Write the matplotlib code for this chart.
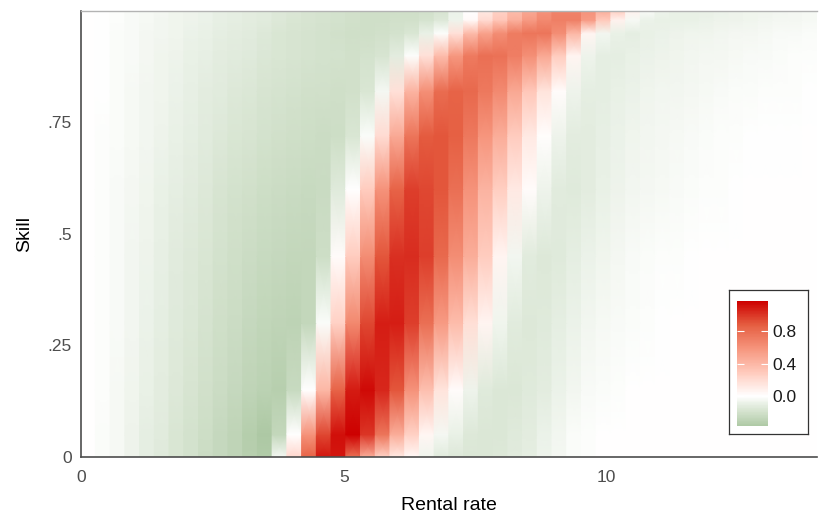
import numpy as np
import matplotlib
matplotlib.use("Agg")
import matplotlib.pyplot as plt
from matplotlib.colors import LinearSegmentedColormap, Normalize

# rental-rate grid: 50 equal columns between 0 and 14
RATE_MIN, RATE_MAX, N_RATE = 0.0, 14.0, 50

SKILL = [0.0, 0.05, 0.15, 0.30, 0.45, 0.60, 0.72, 0.82, 0.90, 0.95, 0.98, 1.0]

ROW_000 = [0, -0.02, -0.045, -0.08, -0.11, -0.14, -0.17, -0.20, -0.23, -0.26, -0.29, -0.32, -0.35,
           -0.05, 0.22, 0.85, 1.10, 1.10, 0.78, 0.45, 0.25, 0.12, 0.04, -0.07, -0.13, -0.15,
           -0.16, -0.16, -0.15, -0.13, -0.11, -0.08, -0.05, -0.025, -0.01, 0, 0, 0, 0, 0,
           0, 0, 0, 0, 0, 0, 0, 0, 0, 0]
ROW_005 = [0, -0.02, -0.045, -0.08, -0.11, -0.135, -0.17, -0.195, -0.225, -0.26, -0.285, -0.33, -0.37,
           -0.27, 0.0, 0.60, 0.95, 1.12, 1.17, 1.00, 0.75, 0.45, 0.25, 0.05, -0.05, -0.10,
           -0.15, -0.16, -0.16, -0.14, -0.12, -0.09, -0.055, -0.025, -0.01, 0, 0, 0, 0, 0,
           0, 0, 0, 0, 0, 0, 0, 0, 0, 0]
ROW_015 = [0, -0.018, -0.04, -0.068, -0.10, -0.127, -0.154, -0.18, -0.21, -0.235, -0.26, -0.285, -0.31,
           -0.32, -0.25, 0.0, 0.40, 0.85, 1.08, 1.14, 1.05, 0.90, 0.60, 0.35, 0.15, 0.02,
           -0.08, -0.14, -0.16, -0.16, -0.14, -0.12, -0.09, -0.06, -0.035, -0.02, -0.01, 0, 0, 0,
           0, 0, 0, 0, 0, 0, 0, 0, 0, 0]
ROW_030 = [0, -0.014, -0.036, -0.059, -0.086, -0.113, -0.14, -0.163, -0.19, -0.213, -0.235, -0.258, -0.276,
           -0.29, -0.30, -0.27, -0.02, 0.25, 0.65, 0.95, 1.07, 1.07, 0.97, 0.78, 0.55, 0.37,
           0.18, 0.06, -0.07, -0.13, -0.15, -0.14, -0.11, -0.085, -0.063, -0.045, -0.03, -0.02, -0.01, -0.005,
           0, 0, 0, 0, 0, 0, 0, 0, 0, 0]
ROW_045 = [0, -0.014, -0.035, -0.057, -0.08, -0.105, -0.128, -0.15, -0.172, -0.195, -0.215, -0.235, -0.25,
           -0.26, -0.27, -0.27, -0.22, 0.02, 0.28, 0.63, 0.90, 1.02, 1.03, 0.97, 0.82, 0.63,
           0.45, 0.28, 0.06, -0.06, -0.13, -0.15, -0.14, -0.11, -0.085, -0.068, -0.05, -0.035, -0.025, -0.015,
           -0.01, -0.005, 0, 0, 0, 0, 0, 0, 0, 0]
ROW_060 = [0, -0.012, -0.03, -0.05, -0.072, -0.093, -0.115, -0.135, -0.155, -0.175, -0.195, -0.21, -0.225,
           -0.235, -0.245, -0.25, -0.24, -0.14, 0.0, 0.28, 0.60, 0.85, 0.97, 0.95, 0.90, 0.78,
           0.60, 0.42, 0.27, 0.12, 0.02, -0.075, -0.13, -0.14, -0.12, -0.10, -0.08, -0.063, -0.05, -0.04,
           -0.03, -0.02, -0.014, -0.01, -0.005, 0, 0, 0, 0, 0]
ROW_072 = [0, -0.01, -0.027, -0.045, -0.063, -0.082, -0.10, -0.118, -0.135, -0.152, -0.168, -0.182, -0.195,
           -0.205, -0.215, -0.225, -0.23, -0.22, -0.17, -0.02, 0.20, 0.47, 0.75, 0.88, 0.90, 0.86,
           0.74, 0.58, 0.45, 0.28, 0.12, 0.01, -0.08, -0.12, -0.12, -0.105, -0.085, -0.072, -0.06, -0.05,
           -0.04, -0.03, -0.024, -0.018, -0.013, -0.009, -0.006, -0.004, -0.002, 0]
ROW_082 = [0, -0.009, -0.024, -0.04, -0.056, -0.072, -0.088, -0.104, -0.12, -0.135, -0.149, -0.162, -0.174,
           -0.185, -0.195, -0.205, -0.21, -0.215, -0.21, -0.17, -0.05, 0.17, 0.42, 0.62, 0.80, 0.85,
           0.82, 0.74, 0.64, 0.48, 0.31, 0.15, 0.02, -0.08, -0.11, -0.11, -0.10, -0.085, -0.072, -0.063,
           -0.055, -0.047, -0.04, -0.033, -0.027, -0.022, -0.017, -0.013, -0.01, -0.007]
ROW_090 = [0, -0.008, -0.02, -0.035, -0.05, -0.064, -0.078, -0.092, -0.106, -0.12, -0.132, -0.145, -0.156,
           -0.167, -0.177, -0.186, -0.194, -0.20, -0.205, -0.20, -0.18, -0.12, -0.01, 0.17, 0.37, 0.57,
           0.73, 0.78, 0.77, 0.71, 0.62, 0.48, 0.28, 0.06, -0.075, -0.11, -0.11, -0.10, -0.088, -0.078,
           -0.068, -0.06, -0.053, -0.046, -0.04, -0.034, -0.028, -0.023, -0.018, -0.014]
ROW_095 = [0, -0.008, -0.02, -0.033, -0.047, -0.06, -0.073, -0.086, -0.099, -0.112, -0.124, -0.136, -0.147,
           -0.165, -0.18, -0.19, -0.20, -0.21, -0.215, -0.215, -0.21, -0.20, -0.17, -0.10, -0.01, 0.17,
           0.38, 0.52, 0.63, 0.72, 0.75, 0.75, 0.63, 0.40, 0.06, -0.06, -0.10, -0.11, -0.10, -0.09,
           -0.08, -0.072, -0.065, -0.058, -0.052, -0.046, -0.04, -0.035, -0.03, -0.026]
ROW_098 = [0, -0.007, -0.018, -0.03, -0.043, -0.055, -0.067, -0.079, -0.091, -0.103, -0.114, -0.125, -0.135,
           -0.15, -0.165, -0.18, -0.19, -0.20, -0.21, -0.215, -0.215, -0.21, -0.205, -0.19, -0.15, -0.08,
           0.03, 0.20, 0.31, 0.43, 0.55, 0.64, 0.70, 0.70, 0.55, 0.30, 0.08, -0.045, -0.09, -0.10,
           -0.10, -0.095, -0.088, -0.08, -0.074, -0.067, -0.06, -0.054, -0.048, -0.043]
ROW_100 = [0, -0.007, -0.018, -0.03, -0.042, -0.054, -0.066, -0.078, -0.09, -0.102, -0.113, -0.124, -0.134,
           -0.148, -0.162, -0.176, -0.188, -0.198, -0.206, -0.212, -0.216, -0.218, -0.218, -0.21, -0.18, -0.09,
           0.0, 0.12, 0.25, 0.37, 0.48, 0.60, 0.68, 0.68, 0.60, 0.45, 0.27, 0.08, -0.03, -0.075,
           -0.095, -0.10, -0.095, -0.088, -0.08, -0.072, -0.064, -0.056, -0.05, -0.045]

X_TICKS = [0, 5, 10]
X_TICKLABELS = ['0', '5', '10']
Y_TICKS = [0, 0.25, 0.5, 0.75]
Y_TICKLABELS = ['0', '.25', '.5', '.75']
CBAR_TICKS = [0.0, 0.4, 0.8]
CBAR_TICKLABELS = ['0.0', '0.4', '0.8']

plt.rcParams['font.family'] = ['Liberation Sans', 'DejaVu Sans']

rows = [ROW_000, ROW_005, ROW_015, ROW_030, ROW_045, ROW_060,
        ROW_072, ROW_082, ROW_090, ROW_095, ROW_098, ROW_100]
z = np.array(rows, dtype=float)

# diverging scale: green below zero, white at zero, red3 above (ggplot gradient2 style)
vabs = np.abs(z).max()
stops = [
    (-1.0, (150, 185, 138)),
    (-0.40, (160, 192, 150)),
    (-0.32, (172, 200, 163)),
    (-0.16, (213, 227, 207)),
    (0.0, (255, 255, 255)),
    (0.25, (255, 202, 188)),
    (0.50, (246, 149, 125)),
    (0.75, (229, 94, 65)),
    (1.0, (205, 0, 0)),
]
cmap = LinearSegmentedColormap.from_list(
    'green_red', [((t + 1) / 2, tuple(c / 255 for c in rgb)) for t, rgb in stops])
norm = Normalize(vmin=-vabs, vmax=vabs)

# each column is a flat band in x, shaded smoothly between skill rows
edges = np.linspace(RATE_MIN, RATE_MAX, N_RATE + 1)
xs = np.column_stack([edges[:-1], edges[1:]]).ravel()
cs = np.repeat(z, 2, axis=1)

fig = plt.figure(figsize=(8.2, 5.14), dpi=100)
ax = fig.add_axes([0.0984, 0.111, 0.898, 0.8676])
ax.pcolormesh(xs, SKILL, cs, shading='gouraud', cmap=cmap, norm=norm,
              antialiased=False, rasterized=True)
ax.set_xlim(RATE_MIN, RATE_MAX)
ax.set_ylim(0, 1)
ax.set_xticks(X_TICKS)
ax.set_xticklabels(X_TICKLABELS)
ax.set_yticks(Y_TICKS)
ax.set_yticklabels(Y_TICKLABELS)
ax.tick_params(length=0, labelsize=12.5, labelcolor='#4d4d4d')
ax.tick_params(axis='x', pad=9.5)
ax.tick_params(axis='y', pad=6.5)
ax.set_xlabel('Rental rate', fontsize=14, color='black', labelpad=8.5)
ax.set_ylabel('Skill', fontsize=14, color='black', labelpad=10.5)
for side in ['left', 'bottom']:
    ax.spines[side].set_color('#4d4d4d')
    ax.spines[side].set_linewidth(1.2)
ax.spines['top'].set_color('#b3b3b3')
ax.spines['top'].set_linewidth(1.0)
ax.spines['right'].set_visible(False)

# legend box in the lower right
box = fig.add_axes([0.889, 0.1556, 0.0963, 0.2802])
box.set_xticks([])
box.set_yticks([])
box.set_facecolor('white')
for sp in box.spines.values():
    sp.set_color('#333333')
    sp.set_linewidth(0.9)

cax = fig.add_axes([0.8988, 0.1712, 0.0378, 0.2432])
sm = plt.cm.ScalarMappable(norm=norm, cmap=cmap)
cbar = fig.colorbar(sm, cax=cax, boundaries=np.linspace(z.min(), z.max(), 256))
cbar.outline.set_visible(False)
cbar.set_ticks(CBAR_TICKS)
cbar.set_ticklabels(CBAR_TICKLABELS)
cax.tick_params(direction='in', color='white', length=5, width=0.8,
                left=True, right=True, labelsize=12.5, labelcolor='#1a1a1a', pad=3.5)

fig.savefig('out.png', dpi=100)
